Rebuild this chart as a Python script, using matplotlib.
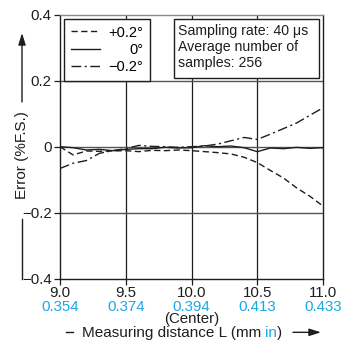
import matplotlib
matplotlib.use("Agg")
import matplotlib.pyplot as plt
from matplotlib.patches import Rectangle
import numpy as np

plt.rcParams['font.family'] = ['Liberation Sans', 'DejaVu Sans']

distance_mm = [9.0, 9.1, 9.2, 9.3, 9.4, 9.5, 9.6, 9.7, 9.8, 9.9, 10.0,
               10.1, 10.2, 10.3, 10.4, 10.5, 10.6, 10.7, 10.8, 10.9, 11.0]
err_plus02 = [0.000, -0.025, -0.013, -0.014, -0.013, -0.012, -0.015, -0.011, -0.012, -0.010, -0.012,
              -0.015, -0.018, -0.022, -0.032, -0.048, -0.072, -0.095, -0.125, -0.150, -0.180]
err_zero = [0.000, -0.003, -0.010, -0.008, -0.012, -0.008, -0.006, -0.006, -0.002, -0.004, -0.003,
            0.003, 0.000, 0.002, -0.003, -0.015, -0.004, -0.006, -0.002, -0.005, -0.003]
err_minus02 = [-0.066, -0.050, -0.042, -0.020, -0.012, -0.006, 0.004, 0.001, 0.000, -0.002, 0.000,
               0.002, 0.008, 0.018, 0.028, 0.022, 0.038, 0.055, 0.072, 0.095, 0.118]

series_labels = ['+0.2°', '0°', '\u22120.2°']
x_ticks = [9.0, 9.5, 10.0, 10.5, 11.0]
x_tick_labels = ['9.0', '9.5', '10.0', '10.5', '11.0']
inch_labels = ['0.354', '0.374', '0.394', '0.413', '0.433']
y_ticks = [-0.4, -0.2, 0.0, 0.2, 0.4]
y_tick_labels = ['\u22120.4', '\u22120.2', '0', '0.2', '0.4']
info_text = 'Sampling rate: 40 μs\nAverage number of\nsamples: 256'

W, H = 344, 342
fig = plt.figure(figsize=(W / 100, H / 100), dpi=100)
L, R, T, B = 60, 323, 14.7, 278.7
ax = fig.add_axes([L / W, 1 - B / H, (R - L) / W, (B - T) / H])

ink = '#1e1e1e'
blue = '#1aa7e6'

ax.set_xlim(9.0, 11.0)
ax.set_ylim(-0.4, 0.4)
ax.set_xticks(x_ticks, labels=x_tick_labels)
ax.set_yticks(y_ticks, labels=y_tick_labels)
ax.tick_params(direction='out', length=4, width=0.9, color=ink, labelcolor=ink,
               labelsize=10.8, pad=2)
ax.tick_params(axis='x', pad=1.5)
for s in ax.spines.values():
    s.set_color(ink)
    s.set_linewidth(1.0)
ax.spines['top'].set_color('#8a8a8a')

for xv in x_ticks[1:-1]:
    ax.axvline(xv, color=ink, lw=0.9, zorder=1)
for yv in y_ticks[1:-1]:
    ax.axhline(yv, color='#555555', lw=1.0, zorder=1)

lw = 1.0
l1, = ax.plot(distance_mm, err_plus02, color=ink, lw=lw, ls=(0, (4.5, 2.5)), zorder=3)
l2, = ax.plot(distance_mm, err_zero, color=ink, lw=lw, ls='-', zorder=3)
l3, = ax.plot(distance_mm, err_minus02, color=ink, lw=lw, ls=(0, (7, 2.5, 1.5, 2.5)), zorder=3)

leg = ax.legend([l1, l2, l3], series_labels, loc='upper left',
                bbox_to_anchor=((64 - L) / (R - L), (B - 19) / (B - T)),
                borderaxespad=0, fancybox=False, framealpha=1, edgecolor=ink,
                fontsize=10.5, handlelength=2.0, handletextpad=0.6,
                labelspacing=0.22, borderpad=0.45)
leg.get_frame().set_linewidth(1.0)
leg.set_zorder(6)

# info box
bx0, bx1, by0, by1 = 174, 319, 19, 78
ax.add_patch(Rectangle(((bx0 - L) / (R - L), (B - by1) / (B - T)),
                       (bx1 - bx0) / (R - L), (by1 - by0) / (B - T),
                       transform=ax.transAxes, facecolor='white', edgecolor=ink,
                       lw=1.0, zorder=5))
ax.text((178.5 - L) / (R - L), (B - 23.5) / (B - T), info_text, transform=ax.transAxes,
        ha='left', va='top', fontsize=10.2, color=ink, linespacing=1.22, zorder=7)

# inch labels
sec = ax.secondary_xaxis('bottom')
sec.set_xticks(x_ticks, labels=inch_labels)
sec.tick_params(length=0, pad=15, labelsize=10.8, labelcolor=blue)
sec.spines['bottom'].set_visible(False)

ax.annotate('(Center)', xy=(10.0, 0), xycoords=('data', 'axes fraction'),
            xytext=(0, -40.5 * 0.72), textcoords='offset points',
            ha='center', va='center', fontsize=10.8, color=ink)

# x label pieces
ylab = 1 - 333 / H
fig.add_artist(plt.Line2D([66 / W, 73 / W], [ylab + 0.002, ylab + 0.002], color=ink, lw=1.0))
t1 = fig.text(82 / W, ylab, 'Measuring distance L (mm ', ha='left', va='center',
              fontsize=11, color=ink)
t2 = ax.annotate('in', xycoords=t1, xy=(1, 0), va='bottom', ha='left',
                 fontsize=11, color=blue, annotation_clip=False)
t3 = ax.annotate(')', xycoords=t2, xy=(1, 0), va='bottom', ha='left',
                 fontsize=11, color=ink, annotation_clip=False)
ax.annotate('', xy=(321 / W, ylab + 0.002), xytext=(293 / W, ylab + 0.002),
            xycoords='figure fraction', textcoords='figure fraction',
            arrowprops=dict(arrowstyle='-|>,head_length=0.7,head_width=0.22',
                            color=ink, lw=1.0, shrinkA=0, shrinkB=0))

# y label with arrow
fig.text(22 / W, 1 - 155 / H, 'Error (%F.S.)', rotation=90, ha='center', va='center',
         fontsize=11, color=ink)
ax.annotate('', xy=(22 / W, 1 - 33 / H), xytext=(22 / W, 1 - 102 / H),
            xycoords='figure fraction', textcoords='figure fraction',
            arrowprops=dict(arrowstyle='-|>,head_length=0.7,head_width=0.22',
                            color=ink, lw=1.0, shrinkA=0, shrinkB=0))
fig.add_artist(plt.Line2D([22 / W, 22 / W], [1 - 219 / H, 1 - 279 / H], color=ink, lw=1.0))

# right-align legend texts
fig.canvas.draw()
texts = leg.get_texts()
widths = [t.get_window_extent().width for t in texts]
maxw = max(widths)
for t, w in zip(texts, widths):
    t.set_position((maxw - w, 0))

fig.savefig('out.png', dpi=100)
